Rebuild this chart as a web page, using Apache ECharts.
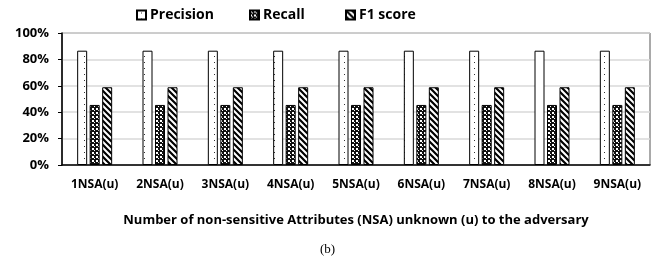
<!DOCTYPE html>
<html>
<head>
<meta charset="utf-8">
<script src="https://cdn.jsdelivr.net/npm/echarts@6/dist/echarts.min.js"></script>
<style>
  html, body { margin: 0; padding: 0; background: #fff; }
  #chart { width: 655px; height: 271px; }
</style>
</head>
<body>
<div id="chart"></div>
<script>
var categories = ['1NSA(u)', '2NSA(u)', '3NSA(u)', '4NSA(u)', '5NSA(u)', '6NSA(u)', '7NSA(u)', '8NSA(u)', '9NSA(u)'];
var precision = [0.866, 0.866, 0.866, 0.866, 0.866, 0.866, 0.866, 0.866, 0.866];
var recall = [0.455, 0.455, 0.455, 0.455, 0.455, 0.455, 0.455, 0.455, 0.455];
var f1score = [0.589, 0.589, 0.589, 0.589, 0.589, 0.589, 0.589, 0.589, 0.589];
var yTicks = [0, 0.2, 0.4, 0.6, 0.8, 1];

var font = '"Open Sans", Lato, sans-serif';

// small canvas tiles used as fill patterns
function tile(w, h, paint) {
  var c = document.createElement('canvas');
  c.width = w; c.height = h;
  var ctx = c.getContext('2d');
  paint(ctx, w, h);
  return { image: c, repeat: 'repeat' };
}

var dots = tile(10, 6, function(ctx, w, h) {
  ctx.fillStyle = '#fff'; ctx.fillRect(0, 0, w, h);
  ctx.fillStyle = '#333'; ctx.fillRect(4, 2, 1, 1);
});

var checker = tile(4, 4, function(ctx, w, h) {
  ctx.fillStyle = '#111'; ctx.fillRect(0, 0, w, h);
  ctx.fillStyle = '#fff';
  ctx.fillRect(0, 0, 2, 2);
  ctx.fillRect(2, 2, 1, 1);
});

var stripes = tile(6, 6, function(ctx, w, h) {
  ctx.fillStyle = '#fff'; ctx.fillRect(0, 0, w, h);
  ctx.strokeStyle = '#000'; ctx.lineWidth = 2.2;
  ctx.beginPath();
  ctx.moveTo(-2, -2); ctx.lineTo(w + 2, h + 2);
  ctx.moveTo(-2 - w, -2); ctx.lineTo(2, h + 2);
  ctx.moveTo(w - 2, -2); ctx.lineTo(2 * w + 2, h + 2);
  ctx.stroke();
});

function legendFor(name, left) {
  return {
    data: [name],
    left: left, top: 8, padding: 0,
    icon: 'rect', itemWidth: 9, itemHeight: 9, itemGap: 0,
    textStyle: { fontFamily: font, fontWeight: 'bold', fontSize: 14, color: '#000', padding: [0, 0, 0, -1] }
  };
}

function bar(name, data, pattern) {
  return {
    name: name, type: 'bar', data: data,
    barWidth: 10, barGap: '25%',
    itemStyle: { color: pattern, borderColor: '#000', borderWidth: 1 },
    emphasis: { disabled: true }
  };
}

var chart = echarts.init(document.getElementById('chart'), null, { renderer: 'canvas' });
chart.setOption({
  animation: false,
  backgroundColor: '#fff',
  legend: [legendFor('Precision', 136), legendFor('Recall', 249), legendFor('F1 score', 345)],
  grid: { left: 62, right: 5, top: 33, bottom: 106, show: true, borderColor: '#555', borderWidth: 1 },
  xAxis: {
    type: 'category', data: categories,
    axisLine: { lineStyle: { color: '#000', width: 1.5 } },
    axisTick: { show: false },
    axisLabel: { fontFamily: font, fontWeight: 'bold', fontSize: 12, color: '#000', margin: 14 },
    name: 'Number of non-sensitive Attributes (NSA) unknown (u) to the adversary',
    nameLocation: 'middle', nameGap: 49,
    nameTextStyle: { fontFamily: font, fontWeight: 'bold', fontSize: 13, color: '#000' }
  },
  yAxis: {
    type: 'value', min: yTicks[0], max: yTicks[yTicks.length - 1], interval: 0.2,
    axisLine: { show: true, lineStyle: { color: '#000', width: 1.5 } },
    axisTick: { show: true, length: 4, inside: false, lineStyle: { color: '#000' } },
    splitLine: { lineStyle: { color: '#d9d9d9', width: 1.5 } },
    axisLabel: {
      fontFamily: font, fontWeight: 'bold', fontSize: 13, color: '#000', margin: 13,
      formatter: function(v) { return Math.round(v * 100) + '%'; }
    }
  },
  graphic: [{
    type: 'text', left: 'center', top: 243,
    style: { text: '(b)', font: '13px "Liberation Serif", "DejaVu Serif", serif', fill: '#000' }
  }],
  series: [
    bar('Precision', precision, dots),
    bar('Recall', recall, checker),
    bar('F1 score', f1score, stripes)
  ]
});
</script>
</body>
</html>
